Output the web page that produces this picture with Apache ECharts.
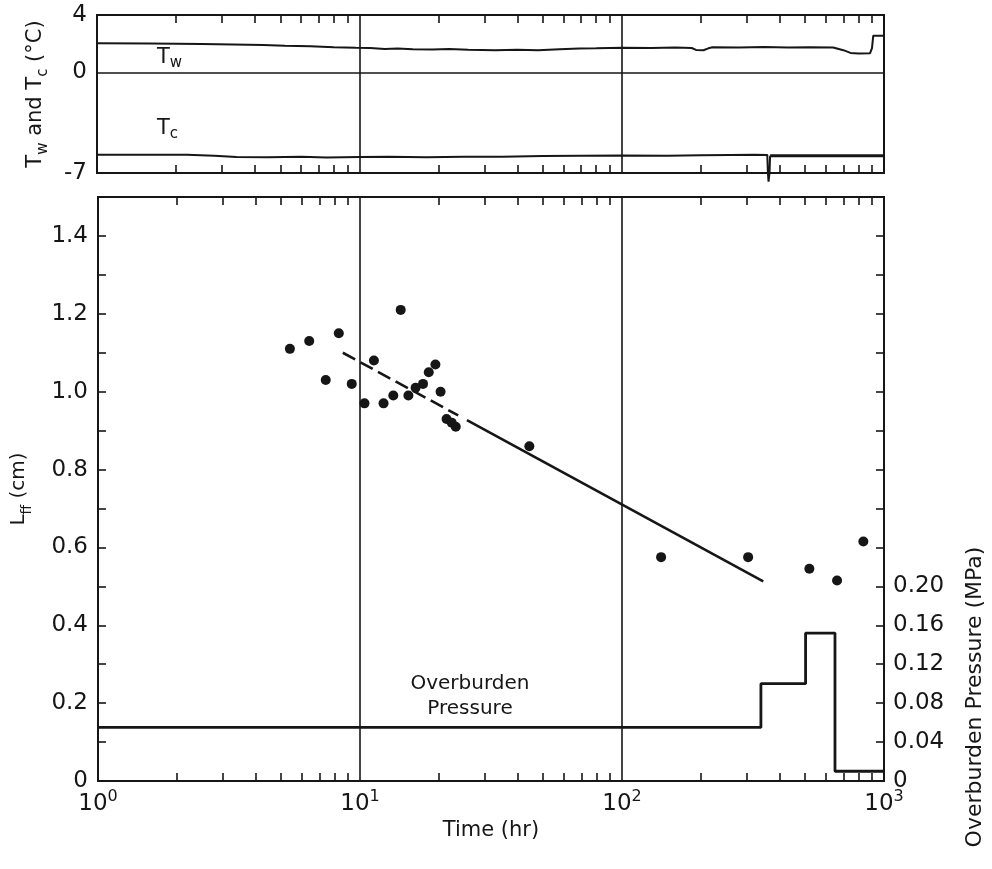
<!DOCTYPE html>
<html>
<head>
<meta charset="utf-8">
<script src="https://cdn.jsdelivr.net/npm/echarts@6/dist/echarts.min.js"></script>
<style>
  html, body { margin: 0; padding: 0; background: #ffffff; }
  #chart { width: 992px; height: 869px; }
</style>
</head>
<body>
<div id="chart"></div>
<script>
// ---- Time axis (hours, logarithmic) ----
const timeDecades = [1, 10, 100, 1000];
const timeMinorTicks = [2, 3, 4, 5, 6, 7, 8, 9,
                        20, 30, 40, 50, 60, 70, 80, 90,
                        200, 300, 400, 500, 600, 700, 800, 900];

// ---- Temperature records (°C) ----
const twTime = [1, 1.6, 2.5, 3.3, 4.3, 5.2, 6.5, 8, 9.7, 11, 12.5, 14, 16, 19, 22, 26, 33, 40, 48, 58, 69, 80,
                101, 130, 160, 185, 192, 205, 214, 222, 280, 350, 430, 520, 640, 700, 745, 800, 885, 900, 910, 1000];
const twTemp = [2.03, 2.02, 1.98, 1.95, 1.91, 1.86, 1.82, 1.76, 1.72, 1.70, 1.64, 1.66, 1.62, 1.60, 1.63, 1.58, 1.55, 1.58, 1.55, 1.62, 1.66, 1.68,
                1.72, 1.70, 1.73, 1.70, 1.57, 1.55, 1.68, 1.76, 1.74, 1.78, 1.74, 1.76, 1.74, 1.55, 1.36, 1.32, 1.34, 1.70, 2.56, 2.56];

const tcTime = [1, 2.2, 2.8, 3.4, 4.5, 6, 7.5, 10, 13, 18, 25, 35, 50, 70, 100, 150, 200, 260, 320, 359, 361, 363, 366, 368];
const tcTemp = [-5.73, -5.73, -5.80, -5.88, -5.90, -5.87, -5.92, -5.88, -5.86, -5.90, -5.87, -5.86, -5.82, -5.80, -5.78, -5.80, -5.76, -5.74, -5.73, -5.74, -7.0, -7.6, -7.0, -5.80];
const tcTimeLate = [368, 1000];
const tcTempLate = [-5.80, -5.80];

const tempLabelValues = [4, 0, -7];

// ---- Frost fringe thickness L_ff (cm) ----
const lffTime = [5.4, 6.4, 7.4, 8.3, 9.3, 10.4, 11.3, 12.3, 13.4, 14.3, 15.3, 16.3, 17.4, 18.3, 19.4, 20.3, 21.4, 22.4, 23.2,
                 44.3, 141, 303, 519, 662, 834];
const lffValue = [1.11, 1.13, 1.03, 1.15, 1.02, 0.97, 1.08, 0.97, 0.99, 1.21, 0.99, 1.01, 1.02, 1.05, 1.07, 1.00, 0.93, 0.92, 0.91,
                  0.86, 0.575, 0.575, 0.545, 0.515, 0.615];

// Fitted trend: dashed across the early data, solid beyond
const trendDashedTime = [8.6, 23.7];
const trendDashedValue = [1.100, 0.939];
const trendSolidTime = [25.6, 346];
const trendSolidValue = [0.927, 0.513];

const lffLabelValues = [0, 0.2, 0.4, 0.6, 0.8, 1.0, 1.2, 1.4];

// ---- Overburden pressure (MPa), stepped history ----
const pressureTime = [1, 339, 502, 650, 1000];
const pressureValue = [0.055, 0.10, 0.152, 0.01, 0.01];
const pressureLabelValues = [0, 0.04, 0.08, 0.12, 0.16, 0.20];

const zip = (xs, ys) => xs.map((x, i) => [x, ys[i]]);

const FONT = 'DejaVu Sans';
const INK = '#161616';

const grids = [
  { left: 97, top: 15, width: 787, height: 158 },
  { left: 98, top: 197, width: 786, height: 584 }
];

// Main time axis: decade grid lines (and decade labels on the lower panel)
function decadeAxis(gridIndex, withLabels) {
  return {
    type: 'log', logBase: 10, gridIndex, position: 'bottom',
    min: 1, max: 1000,
    axisLine: { show: true, onZero: false, lineStyle: { color: INK, width: 2 } },
    axisTick: { show: false },
    axisLabel: withLabels ? {
      show: true, margin: 8, customValues: timeDecades,
      formatter: v => '{b|10}{s|' + Math.round(Math.log10(v)) + '}',
      rich: {
        b: { fontFamily: FONT, fontSize: 23, color: INK, lineHeight: 30 },
        s: { fontFamily: FONT, fontSize: 16, color: INK, lineHeight: 16, verticalAlign: 'top' }
      }
    } : { show: false },
    splitLine: { show: true, lineStyle: { color: INK, width: 1.6 } },
    name: withLabels ? 'Time (hr)' : '',
    nameLocation: 'middle', nameGap: 38,
    nameTextStyle: { fontFamily: FONT, fontSize: 21, color: INK }
  };
}

// Overlay time axis carrying the inward minor ticks (2..9 within each decade)
function minorTickAxis(gridIndex, position) {
  return {
    type: 'log', logBase: 10, gridIndex, position,
    min: 1, max: 1000,
    axisLine: { show: true, onZero: false, lineStyle: { color: INK, width: 2 } },
    axisTick: { show: true, inside: true, length: 8, customValues: timeMinorTicks, lineStyle: { color: INK, width: 1.6 } },
    axisLabel: { show: false },
    splitLine: { show: false }
  };
}

const option = {
  backgroundColor: '#ffffff',
  animation: false,
  grid: grids.map(g => Object.assign({ show: true, borderColor: INK, borderWidth: 2, backgroundColor: 'transparent' }, g)),
  xAxis: [
    decadeAxis(0, false),
    minorTickAxis(0, 'bottom'),
    minorTickAxis(0, 'top'),
    decadeAxis(1, true),
    minorTickAxis(1, 'bottom'),
    minorTickAxis(1, 'top')
  ],
  yAxis: [
    {
      type: 'value', gridIndex: 0, min: -7, max: 4, interval: 1,
      axisLine: { show: true, lineStyle: { color: INK, width: 2 } },
      axisTick: { show: false },
      splitLine: { show: false },
      axisLabel: {
        customValues: tempLabelValues, margin: 10,
        fontFamily: FONT, fontSize: 23, color: INK,
        formatter: v => String(v)
      },
      name: '{m|T}{s|w}{m| and T}{s|c}{m| (°C)}',
      nameLocation: 'middle', nameRotate: 90, nameGap: 46,
      nameTextStyle: {
        rich: {
          m: { fontFamily: FONT, fontSize: 21, color: INK, lineHeight: 30 },
          s: { fontFamily: FONT, fontSize: 15, color: INK, lineHeight: 14, verticalAlign: 'bottom' }
        }
      }
    },
    {
      type: 'value', gridIndex: 1, min: 0, max: 1.5, interval: 0.1,
      axisLine: { show: true, lineStyle: { color: INK, width: 2 } },
      axisTick: { show: true, inside: true, length: 8, lineStyle: { color: INK, width: 1.6 } },
      splitLine: { show: false },
      axisLabel: {
        customValues: lffLabelValues, margin: 10,
        fontFamily: FONT, fontSize: 23, color: INK,
        formatter: v => (v === 0 ? '0' : v.toFixed(1))
      },
      name: '{m|L}{s|ff}{m| (cm)}',
      nameLocation: 'middle', nameRotate: 90, nameGap: 64,
      nameTextStyle: {
        rich: {
          m: { fontFamily: FONT, fontSize: 20, color: INK, lineHeight: 30 },
          s: { fontFamily: FONT, fontSize: 14, color: INK, lineHeight: 14, verticalAlign: 'bottom' }
        }
      }
    },
    {
      type: 'value', gridIndex: 1, position: 'right', min: 0, max: 0.6, interval: 0.04,
      axisLine: { show: true, lineStyle: { color: INK, width: 2 } },
      axisTick: { show: true, inside: true, length: 8, lineStyle: { color: INK, width: 1.6 } },
      splitLine: { show: false },
      axisLabel: {
        customValues: pressureLabelValues, margin: 9,
        fontFamily: FONT, fontSize: 23, color: INK,
        formatter: v => (v === 0 ? '0' : v.toFixed(2))
      }
    }
  ],
  graphic: [
    {
      type: 'text', x: 157, y: 45,
      style: {
        text: '{t|T}{s|w}',
        rich: {
          t: { fontFamily: FONT, fontSize: 21, fill: INK, lineHeight: 26 },
          s: { fontFamily: FONT, fontSize: 15, fill: INK, lineHeight: 14, verticalAlign: 'bottom' }
        }
      }
    },
    {
      type: 'text', x: 157, y: 116,
      style: {
        text: '{t|T}{s|c}',
        rich: {
          t: { fontFamily: FONT, fontSize: 21, fill: INK, lineHeight: 26 },
          s: { fontFamily: FONT, fontSize: 15, fill: INK, lineHeight: 14, verticalAlign: 'bottom' }
        }
      }
    },
    {
      type: 'text', x: 470, y: 696,
      style: {
        text: 'Overburden\nPressure',
        fontFamily: FONT, fontSize: 20, fill: INK, lineHeight: 25,
        align: 'center', verticalAlign: 'middle'
      }
    },
    {
      type: 'text', x: 975, y: 697, rotation: Math.PI / 2,
      style: {
        text: 'Overburden Pressure (MPa)',
        fontFamily: FONT, fontSize: 22, fill: INK,
        align: 'center', verticalAlign: 'middle'
      }
    }
  ],
  series: [
    {
      name: 'Tw', type: 'line', xAxisIndex: 0, yAxisIndex: 0,
      data: zip(twTime, twTemp), showSymbol: false, silent: true,
      lineStyle: { color: INK, width: 2 },
      markLine: {
        silent: true, symbol: 'none', label: { show: false },
        lineStyle: { color: INK, width: 1.6, type: 'solid' },
        data: [{ yAxis: 0 }]
      }
    },
    {
      name: 'Tc', type: 'line', xAxisIndex: 0, yAxisIndex: 0, clip: false,
      data: zip(tcTime, tcTemp), showSymbol: false, silent: true,
      lineStyle: { color: INK, width: 2 }
    },
    {
      name: 'Tc late', type: 'line', xAxisIndex: 0, yAxisIndex: 0,
      data: zip(tcTimeLate, tcTempLate), showSymbol: false, silent: true,
      lineStyle: { color: INK, width: 3.2 }
    },
    {
      name: 'Lff', type: 'scatter', xAxisIndex: 3, yAxisIndex: 1,
      data: zip(lffTime, lffValue), symbol: 'circle', symbolSize: 10,
      itemStyle: { color: INK, opacity: 1 }
    },
    {
      name: 'Trend dashed', type: 'line', xAxisIndex: 3, yAxisIndex: 1,
      data: zip(trendDashedTime, trendDashedValue), showSymbol: false,
      lineStyle: { color: INK, width: 2.6, type: [14, 6] }
    },
    {
      name: 'Trend', type: 'line', xAxisIndex: 3, yAxisIndex: 1,
      data: zip(trendSolidTime, trendSolidValue), showSymbol: false,
      lineStyle: { color: INK, width: 2.6 }
    },
    {
      name: 'Overburden pressure', type: 'line', xAxisIndex: 3, yAxisIndex: 2,
      step: 'end', data: zip(pressureTime, pressureValue), showSymbol: false,
      lineStyle: { color: INK, width: 2.8 }
    }
  ]
};

const chart = echarts.init(document.getElementById('chart'), null, { renderer: 'canvas' });
chart.setOption(option);
</script>
</body>
</html>
